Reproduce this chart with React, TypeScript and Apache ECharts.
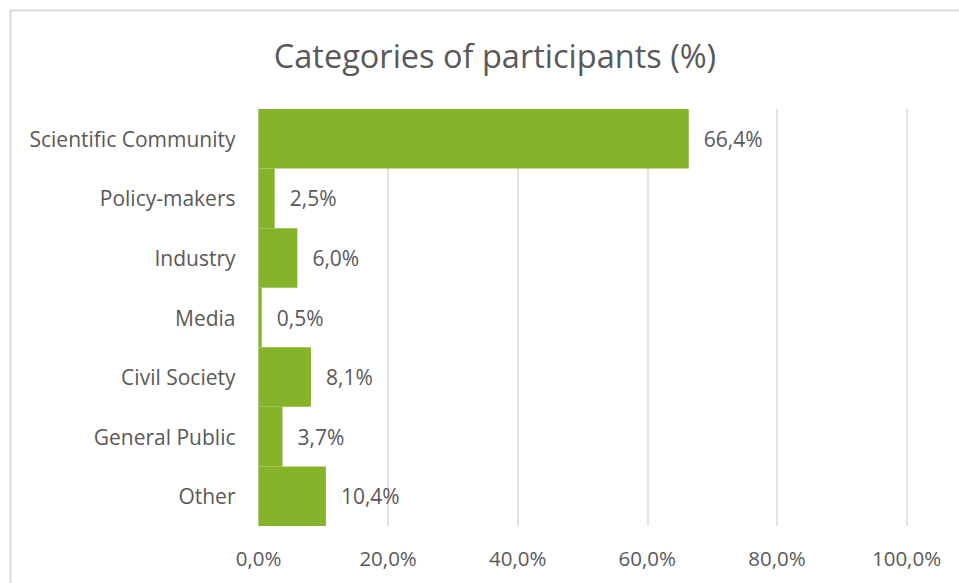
import React, { useEffect, useRef } from "react";
import * as echarts from "echarts";

const categories = [
  "Scientific Community",
  "Policy-makers",
  "Industry",
  "Media",
  "Civil Society",
  "General Public",
  "Other",
];
const values = [66.4, 2.5, 6.0, 0.5, 8.1, 3.7, 10.4];
const xTicks = [0, 20, 40, 60, 80, 100];
const titleText = "Categories of participants (%)";

const FONT = "'Open Sans', 'Noto Sans', sans-serif";
const TEXT = "#595959";
const fmt = (v: number) => v.toFixed(1).replace(".", ",") + "%";

export default function App() {
  const ref = useRef<HTMLDivElement>(null);
  useEffect(() => {
    if (!ref.current) return;
    const chart = echarts.init(ref.current, null, { renderer: "svg" });
    chart.setOption({
      animation: false,
      backgroundColor: "#ffffff",
      title: {
        text: titleText,
        left: 490,
        top: 34,
        textAlign: "center",
        textStyle: { fontFamily: FONT, fontSize: 32.5, fontWeight: "normal", color: TEXT },
      },
      graphic: [
        {
          type: "rect",
          shape: { x: 10.5, y: 10.5, width: 1000, height: 700 },
          style: { fill: "none", stroke: "#d9d9d9", lineWidth: 2 },
          silent: true,
          z: -1,
        },
      ],
      grid: { left: 258.5, right: 52.5, top: 109, bottom: 57, containLabel: false },
      xAxis: {
        type: "value",
        min: xTicks[0],
        max: xTicks[xTicks.length - 1],
        interval: 20,
        axisLine: { show: false },
        axisTick: { show: false },
        splitLine: { show: true, lineStyle: { color: "#d9d9d9", width: 1.5 } },
        axisLabel: {
          formatter: (v: number) => fmt(v),
          fontFamily: FONT,
          fontSize: 20.5,
          color: TEXT,
          margin: 21,
        },
      },
      yAxis: {
        type: "category",
        data: categories,
        inverse: true,
        axisLine: { show: true, lineStyle: { color: "#d9d9d9", width: 1.5 } },
        axisTick: { show: false },
        axisLabel: { fontFamily: FONT, fontSize: 21, color: TEXT, margin: 23 },
      },
      series: [
        {
          type: "bar",
          data: values,
          barCategoryGap: "0%",
          itemStyle: { color: "#85b42a" },
          label: {
            show: true,
            position: "right",
            distance: 15,
            formatter: (p: any) => fmt(p.value),
            fontFamily: FONT,
            fontSize: 21,
            color: TEXT,
          },
        },
      ],
    });
    return () => chart.dispose();
  }, []);
  return (
    <div style={{ position: "fixed", left: 0, top: 0, width: 959, height: 583, background: "#fff" }}>
      <div ref={ref} style={{ width: 959, height: 583 }} />
    </div>
  );
}
